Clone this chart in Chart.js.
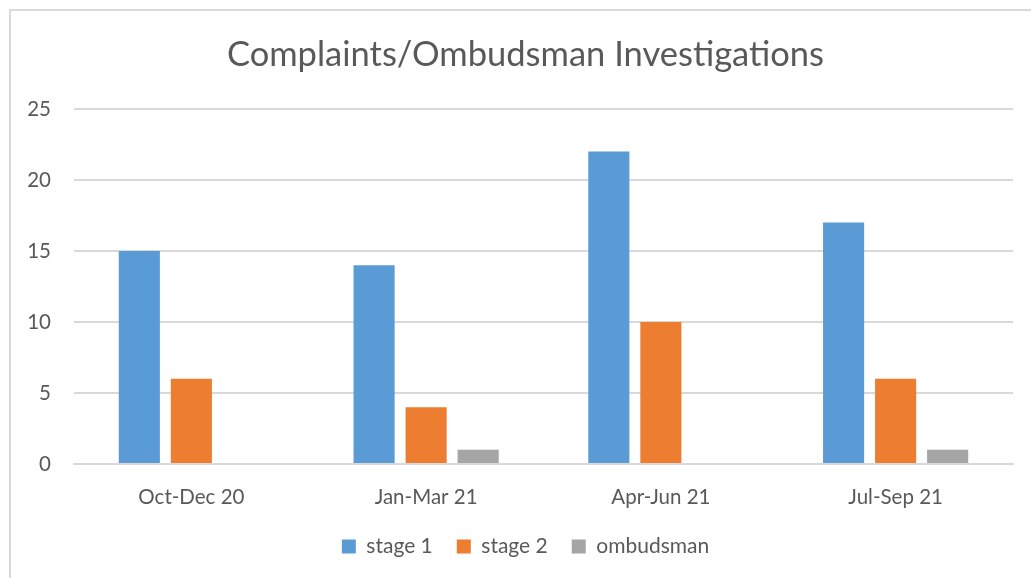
<!DOCTYPE html>
<html>
<head>
<meta charset="utf-8">
<script src="https://cdn.jsdelivr.net/npm/chart.js@4"></script>
<style>
  html, body { margin: 0; padding: 0; overflow: hidden; background: #fff; }
  #wrap { position: relative; width: 1031px; height: 578px; }
  #frame { position: absolute; left: 9px; top: 9px; width: 1100px; height: 700px;
           border: 2px solid #d9d9d9; box-sizing: border-box; pointer-events: none; }
</style>
</head>
<body>
<div id="wrap">
  <canvas id="chart" width="1031" height="578"></canvas>
  <div id="frame"></div>
</div>
<script>
const categories = ['Oct-Dec 20', 'Jan-Mar 21', 'Apr-Jun 21', 'Jul-Sep 21'];
const stage1 = [15, 14, 22, 17];
const stage2 = [6, 4, 10, 6];
const ombudsman = [0, 1, 0, 1];
const yTicks = [0, 5, 10, 15, 20, 25];

const textColor = '#595959';
const gridColor = '#d9d9d9';
const fontFamily = 'Lato, "Open Sans", sans-serif';

// y labels sit in the left padding, so widen the axis box after layout
// (otherwise chart.js clips them to the narrow axis)
const widenYAxis = {
  id: 'widenYAxis',
  afterLayout(chart) {
    chart.scales.y.left = 0;
  }
};

const ctx = document.getElementById('chart').getContext('2d');

new Chart(ctx, {
  type: 'bar',
  data: {
    labels: categories,
    datasets: [
      { label: 'stage 1', data: stage1, backgroundColor: '#5b9bd5' },
      { label: 'stage 2', data: stage2, backgroundColor: '#ed7d31' },
      { label: 'ombudsman', data: ombudsman, backgroundColor: '#a5a5a5' }
    ]
  },
  plugins: [widenYAxis],
  options: {
    responsive: false,
    animation: false,
    datasets: {
      bar: { categoryPercentage: 0.665, barPercentage: 0.79 }
    },
    // left padding moves title and legend to the middle of the frame
    layout: { padding: { left: 38, right: 18, top: 0, bottom: 11 } },
    plugins: {
      title: {
        display: true,
        text: 'Complaints/Ombudsman Investigations',
        color: textColor,
        font: { family: fontFamily, size: 34.5, weight: 'normal' },
        padding: { top: 34, bottom: 33.5 }
      },
      legend: {
        position: 'bottom',
        labels: {
          color: textColor,
          font: { family: fontFamily, size: 21 },
          boxWidth: 14,
          boxHeight: 14,
          padding: 24
        }
      },
      tooltip: { enabled: false }
    },
    scales: {
      x: {
        grid: { display: false, drawTicks: false },
        border: { display: true, color: gridColor, width: 2 },
        ticks: { color: textColor, font: { family: fontFamily, size: 20.5 }, padding: 21 },
        afterFit: (scale) => { scale.height = 48; }
      },
      y: {
        min: 0,
        max: 25,
        afterBuildTicks: (scale) => { scale.ticks = yTicks.map(v => ({ value: v })); },
        grid: { color: gridColor, lineWidth: 2, drawTicks: false },
        border: { display: false },
        ticks: { color: textColor, font: { family: fontFamily, size: 20.5 }, padding: 23 },
        afterFit: (scale) => { scale.width = 36; }
      }
    }
  }
});
</script>
</body>
</html>
